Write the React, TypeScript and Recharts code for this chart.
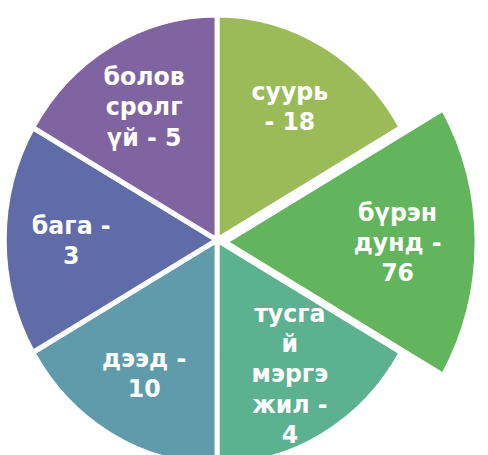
import { Cell, Pie, PieChart } from 'recharts';

// Круговая диаграмма: 6 равных секторов, подписи — категория и число.
// Сектор «бүрэн дунд» вынесен наружу (рисуется отдельным Pie).

const categories = ['суурь', 'бүрэн дунд', 'тусгай мэргэжил', 'дээд', 'бага', 'боловсролгүй'];
const counts = [18, 76, 4, 10, 3, 5];
const sliceWeights = [1, 1, 1, 1, 1, 1];
const labelLines = [
  ['суурь', '- 18'],
  ['бүрэн', 'дунд -', '76'],
  ['тусга', 'й', 'мэргэ', 'жил -', '4'],
  ['дээд -', '10'],
  ['бага -', '3'],
  ['болов', 'сролг', 'үй - 5'],
];
const colors = ['#9bbb59', '#62b55c', '#5bb190', '#5f9baa', '#5f6ca8', '#8064a2'];
const EXPLODED = 1;

const data = categories.map((name, i) => ({
  name,
  count: counts[i],
  weight: sliceWeights[i],
  lines: labelLines[i],
}));

const RADIAN = Math.PI / 180;
const LINE_H = 29;

function renderLabel(only: (i: number) => boolean) {
  return (props: any) => {
    const { cx, cy, midAngle, outerRadius, index, payload } = props;
    if (!only(index)) return null;
    const r = outerRadius * 0.685;
    const x = cx + r * Math.cos(-midAngle * RADIAN);
    const y = cy + r * Math.sin(-midAngle * RADIAN);
    const lines: string[] = payload.lines ?? payload.payload?.lines ?? [];
    const first = y - ((lines.length - 1) * LINE_H) / 2 + 8.5;
    return (
      <text
        key={`lbl-${index}`}
        x={x}
        y={first}
        textAnchor="middle"
        fill="#ffffff"
        fontSize={24}
        fontWeight="bold"
        fontFamily="'DejaVu Sans', Verdana, sans-serif"
      >
        {lines.map((l, i) => (
          <tspan key={i} x={x} y={first + i * LINE_H}>
            {l}
          </tspan>
        ))}
      </text>
    );
  };
}

export default function App() {
  return (
    <div style={{ position: 'absolute', left: 0, top: 0, width: 488, height: 455, overflow: 'hidden' }}>
      <div style={{ transform: 'scale(0.985, 1.042)', transformOrigin: '217px 240px' }}>
        <PieChart width={488} height={455} margin={{ top: 0, right: 0, bottom: 0, left: 0 }}>
          <Pie
            data={data}
            dataKey="weight"
            nameKey="name"
            cx={217}
            cy={240}
            outerRadius={216}
            startAngle={90}
            endAngle={-270}
            labelLine={false}
            label={renderLabel((i) => i !== EXPLODED)}
            isAnimationActive={false}
          >
            {data.map((d, i) => (
              <Cell
                key={d.name}
                fill={i === EXPLODED ? 'none' : colors[i]}
                stroke={i === EXPLODED ? 'none' : '#ffffff'}
                strokeWidth={5}
              />
            ))}
          </Pie>
          <Pie
            data={data}
            dataKey="weight"
            nameKey="name"
            cx={225}
            cy={242}
            outerRadius={256}
            startAngle={90}
            endAngle={-270}
            labelLine={false}
            label={renderLabel((i) => i === EXPLODED)}
            isAnimationActive={false}
          >
            {data.map((d, i) => (
              <Cell
                key={d.name}
                fill={i === EXPLODED ? colors[i] : 'none'}
                stroke={i === EXPLODED ? '#ffffff' : 'none'}
                strokeWidth={5}
              />
            ))}
          </Pie>
        </PieChart>
      </div>
    </div>
  );
}
